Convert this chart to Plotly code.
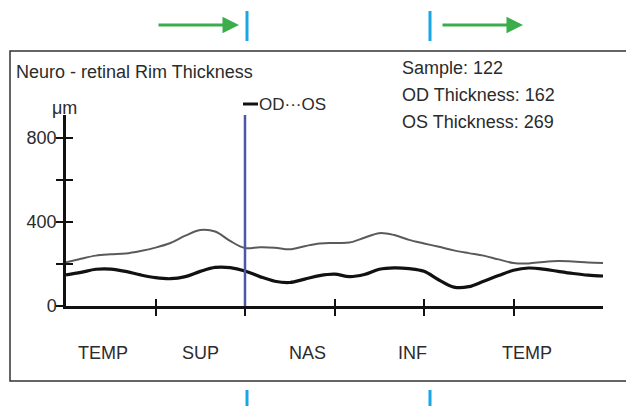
import plotly.graph_objects as go

# ---------------- data ----------------
angles = list(range(0, 361, 10))
od_values = [148, 160, 175, 176, 165, 148, 135, 130, 140, 165, 184, 183, 167, 140, 118,
             112, 128, 145, 152, 140, 150, 175, 182, 178, 165, 124, 90, 92, 118, 145,
             170, 181, 176, 165, 155, 147, 143]
os_values = [208, 225, 240, 246, 250, 262, 278, 300, 335, 362, 355, 310, 276, 280, 278,
             270, 285, 298, 300, 302, 325, 347, 338, 315, 298, 282, 265, 252, 240, 222,
             205, 203, 210, 214, 212, 207, 205]
y_tick_vals = [0, 200, 400, 600, 800]
y_tick_text = ["0", "", "400", "", "800"]
x_tick_vals = [60, 120, 180, 240, 300]
sector_labels = ["TEMP", "SUP", "NAS", "INF", "TEMP"]
sector_pos = [25, 90, 162, 232, 309]
stats_labels = ["Sample: 122", "OD Thickness: 162", "OS Thickness: 269"]
marker_angle = 120
title_text = "Neuro - retinal Rim Thickness"
unit_text = "μm"

W, H = 626, 406
FIG_H = 416          # the page renders the figure 10 px shorter than requested
FONT = "Liberation Sans, Arial, sans-serif"
TXT = "#2b2b2b"
FS = 18


def px(x):
    return x / W


def py(y):
    return 1 - y / H


fig = go.Figure()
fig.add_trace(go.Scatter(x=angles, y=os_values, mode="lines", name="OS",
                         line=dict(color="#5a5a5a", width=2, shape="spline", smoothing=1.0),
                         xaxis="x", yaxis="y", hoverinfo="skip"))
fig.add_trace(go.Scatter(x=angles, y=od_values, mode="lines", name="OD",
                         line=dict(color="#111111", width=3.2, shape="spline", smoothing=1.0),
                         xaxis="x2", yaxis="y2", hoverinfo="skip"))

xdom = [px(66), px(603)]
ydom = [py(306), py(115)]
xr = [0, 360]
yr = [0, 910]

common_x = dict(range=xr, showgrid=False, zeroline=False, tickvals=x_tick_vals,
                showticklabels=False, ticklen=7, tickwidth=2, tickcolor="#111")
common_y = dict(range=yr, showgrid=False, zeroline=False, tickvals=y_tick_vals,
                ticktext=y_tick_text, ticklen=7, tickwidth=2, tickcolor="#111",
                tickfont=dict(family=FONT, size=FS, color=TXT))

fig.update_layout(
    width=W, height=FIG_H, autosize=False,
    margin=dict(l=0, r=0, t=0, b=0),
    paper_bgcolor="white", plot_bgcolor="white",
    showlegend=False,
    xaxis=dict(domain=xdom, anchor="y", showline=True, linecolor="#111", linewidth=2.5,
               ticks="outside", **common_x),
    yaxis=dict(domain=ydom, anchor="x", showline=True, linecolor="#111", linewidth=2.5,
               ticks="outside", ticklabelstandoff=-4, **common_y),
    xaxis2=dict(overlaying="x", anchor="y2", side="bottom", showline=False,
                ticks="inside", **common_x),
    yaxis2=dict(overlaying="y", anchor="x2", side="left", showline=False,
                ticks="inside", **{**common_y, "showticklabels": False}),
)

# outer frame
fig.add_shape(type="rect", xref="paper", yref="paper", x0=px(10), x1=px(640),
              y0=py(381), y1=py(51), line=dict(color="#333", width=1.5), layer="below")

# boundary line at SUP/NAS
fig.add_shape(type="line", xref="x", yref="y domain", x0=marker_angle, x1=marker_angle,
              y0=0, y1=1, line=dict(color="#4b57a8", width=2.5))

# cyan markers outside the frame
for xp in (247, 430):
    fig.add_shape(type="line", xref="paper", yref="paper", x0=px(xp), x1=px(xp),
                  y0=py(41), y1=py(11), line=dict(color="#19a6e6", width=3))
    fig.add_shape(type="line", xref="paper", yref="paper", x0=px(xp), x1=px(xp),
                  y0=py(406), y1=py(390), line=dict(color="#19a6e6", width=3))

# green arrows
for tip in (239, 523):
    fig.add_annotation(x=px(tip), y=py(25), xref="paper", yref="paper", ax=-82, ay=0,
                       text="", showarrow=True, arrowhead=2, arrowsize=1.1,
                       arrowwidth=3, arrowcolor="#3bad4a", standoff=0)

# title
fig.add_annotation(x=px(14), y=py(72), xref="paper", yref="paper", text=title_text,
                   showarrow=False, xanchor="left", yanchor="middle",
                   font=dict(family=FONT, size=FS, color=TXT))
# unit
fig.add_annotation(x=px(64), y=py(108), xref="paper", yref="paper", text=unit_text,
                   showarrow=False, xanchor="center", yanchor="middle",
                   font=dict(family=FONT, size=FS, color=TXT))
# stats
for i, s in enumerate(stats_labels):
    fig.add_annotation(x=px(400), y=py(68 + 27 * i), xref="paper", yref="paper", text=s,
                       showarrow=False, xanchor="left", yanchor="middle",
                       font=dict(family=FONT, size=FS, color=TXT))
# legend
fig.add_shape(type="line", xref="paper", yref="paper", x0=px(243), x1=px(258),
              y0=py(104), y1=py(104), line=dict(color="#111", width=3))
fig.add_annotation(x=px(257), y=py(105), xref="paper", yref="paper", text="OD···OS",
                   showarrow=False, xanchor="left", yanchor="middle",
                   font=dict(family=FONT, size=17, color=TXT))
# sector labels
for lab, pos in zip(sector_labels, sector_pos):
    fig.add_annotation(x=pos, y=py(353), xref="x", yref="paper", text=lab,
                       showarrow=False, xanchor="center", yanchor="middle",
                       font=dict(family=FONT, size=FS, color=TXT))

page_fix = (
    "document.documentElement.style.margin='0';"
    "document.documentElement.style.overflow='hidden';"
    "document.body.style.margin='0';"
    "document.body.style.overflow='hidden';"
)

fig.write_html("out.html", config={"displayModeBar": False}, post_script=page_fix)
